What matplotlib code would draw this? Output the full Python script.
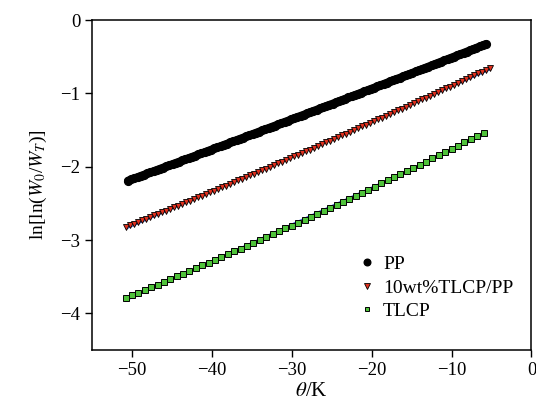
import numpy as np
import matplotlib
matplotlib.use("Agg")
import matplotlib.pyplot as plt

plt.rcParams["font.family"] = ["Liberation Serif", "DejaVu Serif"]
plt.rcParams["mathtext.fontset"] = "stix"

# PP
pp_x = [-50.5, -50.1, -49.7, -49.3, -48.9, -48.5, -48.1, -47.7, -47.3, -46.9,
        -46.5, -46.1, -45.7, -45.3, -44.9, -44.5, -44.1, -43.7, -43.3, -42.9,
        -42.5, -42.1, -41.7, -41.3, -40.9, -40.5, -40.1, -39.7, -39.3, -38.9,
        -38.5, -38.1, -37.7, -37.3, -36.9, -36.5, -36.1, -35.7, -35.3, -34.9,
        -34.5, -34.1, -33.7, -33.3, -32.9, -32.5, -32.1, -31.7, -31.3, -30.9,
        -30.5, -30.1, -29.7, -29.3, -28.9, -28.5, -28.1, -27.7, -27.3, -26.9,
        -26.5, -26.1, -25.7, -25.3, -24.9, -24.5, -24.1, -23.7, -23.3, -22.9,
        -22.5, -22.1, -21.7, -21.3, -20.9, -20.5, -20.1, -19.7, -19.3, -18.9,
        -18.5, -18.1, -17.7, -17.3, -16.9, -16.5, -16.1, -15.7, -15.3, -14.9,
        -14.5, -14.1, -13.7, -13.3, -12.9, -12.5, -12.1, -11.7, -11.3, -10.9,
        -10.5, -10.1, -9.7, -9.3, -8.9, -8.5, -8.1, -7.7, -7.3, -6.9,
        -6.5, -6.1, -5.7]
pp_y = [-2.190, -2.174, -2.158, -2.142, -2.125, -2.109, -2.093, -2.077, -2.061, -2.045,
        -2.028, -2.012, -1.996, -1.980, -1.963, -1.947, -1.931, -1.915, -1.898, -1.882,
        -1.866, -1.850, -1.833, -1.817, -1.801, -1.784, -1.768, -1.751, -1.735, -1.719,
        -1.702, -1.686, -1.670, -1.653, -1.637, -1.620, -1.604, -1.587, -1.571, -1.554,
        -1.538, -1.521, -1.505, -1.488, -1.472, -1.455, -1.439, -1.422, -1.406, -1.389,
        -1.373, -1.356, -1.339, -1.323, -1.306, -1.290, -1.273, -1.256, -1.240, -1.223,
        -1.206, -1.190, -1.173, -1.156, -1.140, -1.123, -1.106, -1.089, -1.073, -1.056,
        -1.039, -1.022, -1.006, -0.989, -0.972, -0.955, -0.938, -0.922, -0.905, -0.888,
        -0.871, -0.854, -0.837, -0.820, -0.804, -0.787, -0.770, -0.753, -0.736, -0.719,
        -0.702, -0.685, -0.668, -0.651, -0.634, -0.617, -0.600, -0.583, -0.566, -0.549,
        -0.532, -0.515, -0.498, -0.481, -0.464, -0.447, -0.430, -0.413, -0.396, -0.378,
        -0.361, -0.344, -0.327]

# 10wt%TLCP/PP
blend_x = [-50.7, -50.2, -49.7, -49.2, -48.7, -48.2, -47.7, -47.2, -46.7, -46.2,
           -45.7, -45.2, -44.7, -44.2, -43.7, -43.2, -42.7, -42.2, -41.7, -41.2,
           -40.7, -40.2, -39.7, -39.2, -38.7, -38.2, -37.7, -37.2, -36.7, -36.2,
           -35.7, -35.2, -34.7, -34.2, -33.7, -33.2, -32.7, -32.2, -31.7, -31.2,
           -30.7, -30.2, -29.7, -29.2, -28.7, -28.2, -27.7, -27.2, -26.7, -26.2,
           -25.7, -25.2, -24.7, -24.2, -23.7, -23.2, -22.7, -22.2, -21.7, -21.2,
           -20.7, -20.2, -19.7, -19.2, -18.7, -18.2, -17.7, -17.2, -16.7, -16.2,
           -15.7, -15.2, -14.7, -14.2, -13.7, -13.2, -12.7, -12.2, -11.7, -11.2,
           -10.7, -10.2, -9.7, -9.2, -8.7, -8.2, -7.7, -7.2, -6.7, -6.2,
           -5.7, -5.2]
blend_y = [-2.820, -2.798, -2.776, -2.754, -2.732, -2.710, -2.687, -2.665, -2.643, -2.620,
           -2.598, -2.576, -2.553, -2.531, -2.508, -2.486, -2.463, -2.440, -2.418, -2.395,
           -2.372, -2.349, -2.326, -2.303, -2.281, -2.258, -2.235, -2.211, -2.188, -2.165,
           -2.142, -2.119, -2.096, -2.072, -2.049, -2.026, -2.002, -1.979, -1.955, -1.932,
           -1.908, -1.884, -1.861, -1.837, -1.813, -1.790, -1.766, -1.742, -1.718, -1.694,
           -1.670, -1.646, -1.622, -1.598, -1.574, -1.550, -1.525, -1.501, -1.477, -1.452,
           -1.428, -1.404, -1.379, -1.355, -1.330, -1.306, -1.281, -1.256, -1.232, -1.207,
           -1.182, -1.157, -1.132, -1.107, -1.083, -1.058, -1.033, -1.007, -0.982, -0.957,
           -0.932, -0.907, -0.882, -0.856, -0.831, -0.806, -0.780, -0.755, -0.729, -0.704,
           -0.678, -0.652]

# TLCP
tlcp_x = [-50.8, -50.0, -49.2, -48.4, -47.6, -46.8, -46.0, -45.2, -44.4, -43.6,
          -42.8, -42.0, -41.2, -40.4, -39.6, -38.8, -38.0, -37.2, -36.4, -35.6,
          -34.8, -34.0, -33.2, -32.4, -31.6, -30.8, -30.0, -29.2, -28.4, -27.6,
          -26.8, -26.0, -25.2, -24.4, -23.6, -22.8, -22.0, -21.2, -20.4, -19.6,
          -18.8, -18.0, -17.2, -16.4, -15.6, -14.8, -14.0, -13.2, -12.4, -11.6,
          -10.8, -10.0, -9.2, -8.4, -7.6, -6.8, -6.0]
tlcp_y = [-3.790, -3.754, -3.718, -3.681, -3.645, -3.608, -3.571, -3.534, -3.497, -3.460,
          -3.422, -3.385, -3.347, -3.309, -3.271, -3.233, -3.194, -3.155, -3.117, -3.078,
          -3.039, -3.000, -2.961, -2.922, -2.882, -2.842, -2.803, -2.763, -2.722, -2.682,
          -2.642, -2.601, -2.560, -2.519, -2.478, -2.437, -2.396, -2.354, -2.312, -2.271,
          -2.229, -2.186, -2.145, -2.102, -2.060, -2.017, -1.974, -1.931, -1.888, -1.845,
          -1.801, -1.758, -1.714, -1.670, -1.626, -1.581, -1.537]

labels = ["PP", "10wt%TLCP/PP", "TLCP"]
xticks = [-50, -40, -30, -20, -10, 0]
yticks = [-4, -3, -2, -1, 0]

fig = plt.figure(figsize=(5.36, 4.11), dpi=100)
ax = fig.add_axes([0.1716, 0.1484, 0.8200, 0.8029])

# thin linear fits behind the markers
for xs, ys in [(pp_x, pp_y), (blend_x, blend_y), (tlcp_x, tlcp_y)]:
    k, b = np.polyfit(xs, ys, 1)
    xs = np.array(xs)
    ax.plot(xs, k * xs + b, color="#3a5fd0", lw=0.9, zorder=1)

# PP points are so dense they merge into a thick band
ax.plot(pp_x, pp_y, "-", lw=5.6, color="black", solid_capstyle="round", zorder=3)
ax.plot(pp_x, pp_y, "o", ms=5.6, color="black", mec="black", label=labels[0], zorder=3)
ax.plot(blend_x, blend_y, "v", ms=4.4, mfc="#e0301e", mec="black", mew=0.6,
        label=labels[1], zorder=3)
ax.plot(tlcp_x, tlcp_y, "s", ms=3.7, mfc="#4fc23a", mec="black", mew=0.7,
        label=labels[2], zorder=3)

ax.set_xlim(-55, 0)
ax.set_ylim(-4.5, 0)
ax.set_xticks(xticks)
ax.set_yticks(yticks)
ax.tick_params(direction="out", length=5, width=1, labelsize=13.5, top=False, right=False)
for s in ax.spines.values():
    s.set_linewidth(1.1)

ax.set_xlabel(r"$\theta$/K", fontsize=15, labelpad=2)
ax.set_ylabel(r"ln[ln($W_0$/$W_T$)]", fontsize=14, labelpad=8)

leg = ax.legend(loc="upper left", bbox_to_anchor=(0.585, 0.31), frameon=False,
                fontsize=14, handlelength=1.0, handletextpad=0.35, labelspacing=0.3,
                borderaxespad=0, markerscale=0.85)

fig.savefig("out.png", dpi=100)
